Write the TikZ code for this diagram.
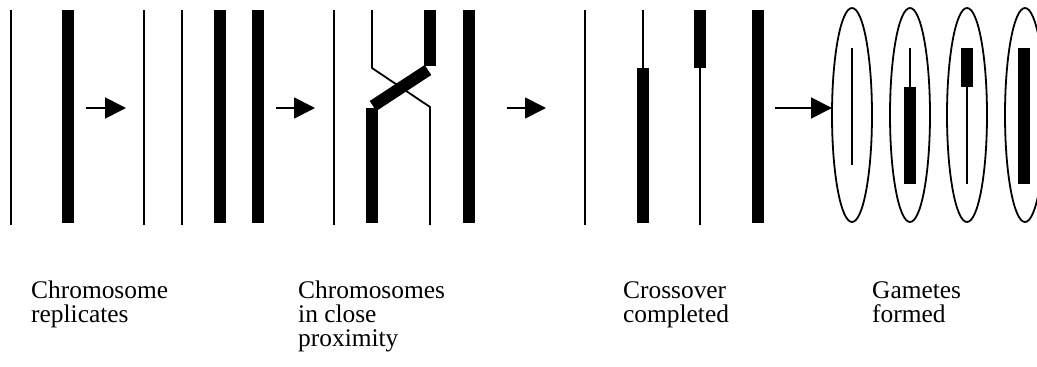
\documentclass[tikz,border=0pt]{standalone}
\usepackage{fontspec}
\setmainfont{Liberation Serif}
\usetikzlibrary{arrows.meta, shapes.geometric}
\tikzset{
  thinline/.style={line width=1.8pt},
  thickbar/.style={line width=12pt},
  stagearrow/.style={line width=1.8pt, -{Triangle[length=21pt,width=21pt]}},
  gamete/.style={draw, ellipse, line width=1.8pt, minimum width=40pt, minimum height=214pt, inner sep=0pt},
  caption/.style={font=\fontsize{25.4}{24}\selectfont, align=left, anchor=north west, inner sep=0pt}
}
\begin{document}
\begin{tikzpicture}[x=1pt,y=-1pt]
        \clip (0,0) rectangle (1037,367);
        \foreach \x in {11,144,182,334,585} \draw[thinline] (\x,10) -- (\x,225);
        \foreach \x in {68,220,258,469,758} \draw[thickbar] (\x,10) -- (\x,223);
        \draw[thinline] (372,10) -- (372,68) -- (430,107) -- (430,225);
        \draw[thickbar] (430,10) -- (430,66);
        \draw[thickbar] (428,70) -- (373,106);
        \draw[thickbar] (372,108) -- (372,223);
        \draw[thinline] (643,10) -- (643,68);
        \draw[thickbar] (643,68) -- (643,223);
        \draw[thickbar] (700,10) -- (700,68);
        \draw[thinline] (700,68) -- (700,225);
        \node[gamete] (g1) at (852,115) {};
        \node[gamete] (g2) at (910,115) {};
        \node[gamete] (g3) at (967,115) {};
        \node[gamete] (g4) at (1025,115) {};
        \draw[thinline] (852,48) -- (852,165);
        \draw[thinline] (910,48) -- (910,87);
        \draw[thickbar] (910,87) -- (910,184);
        \draw[thickbar] (967,48) -- (967,87);
        \draw[thinline] (967,87) -- (967,184);
        \draw[thickbar] (1024,48) -- (1024,184);
        \coordinate (a1s) at (86,108);  \coordinate (a1e) at (126,108);
        \coordinate (a2s) at (276,108); \coordinate (a2e) at (315,108);
        \coordinate (a3s) at (507,108); \coordinate (a3e) at (546,108);
        \coordinate (a4s) at (775,108); \coordinate (a4e) at (832,108);
        \draw[stagearrow] (a1s) -- (a1e);
        \draw[stagearrow] (a2s) -- (a2e);
        \draw[stagearrow] (a3s) -- (a3e);
        \draw[stagearrow] (a4s) -- (a4e);
        \node[caption] (replicates) at (31,281) {Chromosome\\replicates};
        \node[caption] (proximity) at (298,281) {Chromosomes\\in close\\proximity};
        \node[caption] (completed) at (623,281) {Crossover\\completed};
        \node[caption] (formed) at (872,281) {Gametes\\formed};
    \end{tikzpicture}
\end{document}
